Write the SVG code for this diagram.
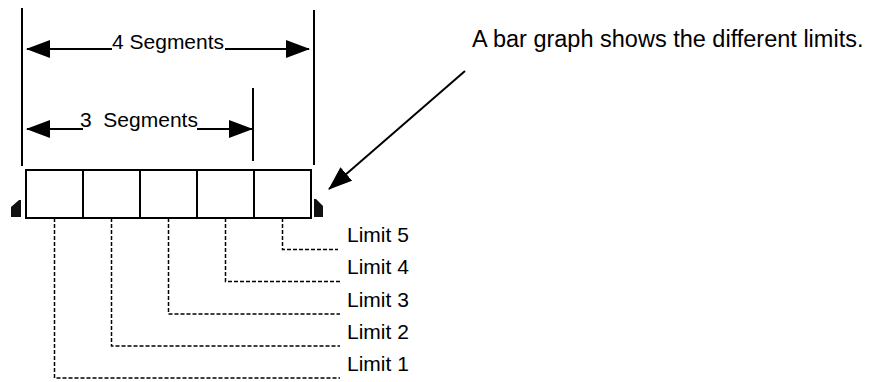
<svg xmlns="http://www.w3.org/2000/svg" width="870" height="382" viewBox="0 0 870 382">
<style>
.ln{stroke:#000;stroke-width:2;fill:none}
.dash{stroke:#000;stroke-width:1.5;fill:none;stroke-dasharray:4 2}
.cell{fill:#fff;stroke:#000;stroke-width:2}
.t{font-family:"Liberation Sans",Arial,sans-serif;font-size:21px;fill:#000}
.end{fill:#111}
</style>
<defs>
<marker id="ah" markerUnits="userSpaceOnUse" markerWidth="24" markerHeight="18" refX="23" refY="9" orient="auto-start-reverse">
<path d="M0,0 L24,9 L0,18 z" fill="#000"/>
</marker>
</defs>
<rect width="870" height="382" fill="#fff"/>
<g id="bar">
<rect class="cell" x="26" y="170" width="57" height="48"/>
<rect class="cell" x="83" y="170" width="57" height="48"/>
<rect class="cell" x="140" y="170" width="57" height="48"/>
<rect class="cell" x="197" y="170" width="57" height="48"/>
<rect class="cell" x="254" y="170" width="57" height="48"/>
</g>
<g id="end-left"><polygon class="end" points="11,207 19,200 21,200 21,217 11,217"/></g>
<g id="end-right"><polygon class="end" points="314,199 316,199 323,206 323,217 314,217"/></g>
<g id="connectors">
<line class="ln" x1="22" y1="8" x2="22" y2="166"/>
<line class="ln" x1="314" y1="10" x2="314" y2="165"/>
<line class="ln" x1="253" y1="88" x2="253" y2="161"/>
<line class="ln" x1="112" y1="49" x2="27" y2="49" marker-end="url(#ah)"/>
<line class="ln" x1="225" y1="49" x2="309" y2="49" marker-end="url(#ah)"/>
<line class="ln" x1="83" y1="129" x2="27" y2="129" marker-end="url(#ah)"/>
<line class="ln" x1="197" y1="129" x2="252" y2="129" marker-end="url(#ah)"/>
<line class="ln" x1="465" y1="71" x2="329" y2="189" marker-end="url(#ah)"/>
<path class="dash" d="M282.5,218 V249.5 H338"/>
<path class="dash" d="M225.5,218 V281.5 H340"/>
<path class="dash" d="M168.5,218 V314 H340"/>
<path class="dash" d="M111.5,218 V346 H340"/>
<path class="dash" d="M54.5,218 V378 H340"/>
</g>
<g id="labels">
<text class="t" x="112" y="49">4 Segments</text>
<text class="t" x="80" y="127" xml:space="preserve">3  Segments</text>
<text class="t" x="472" y="47" style="font-size:23.5px">A bar graph shows the different limits.</text>
<text class="t" x="347" y="242">Limit 5</text>
<text class="t" x="347" y="274">Limit 4</text>
<text class="t" x="347" y="306.5">Limit 3</text>
<text class="t" x="347" y="338.5">Limit 2</text>
<text class="t" x="347" y="371">Limit 1</text>
</g>
</svg>
